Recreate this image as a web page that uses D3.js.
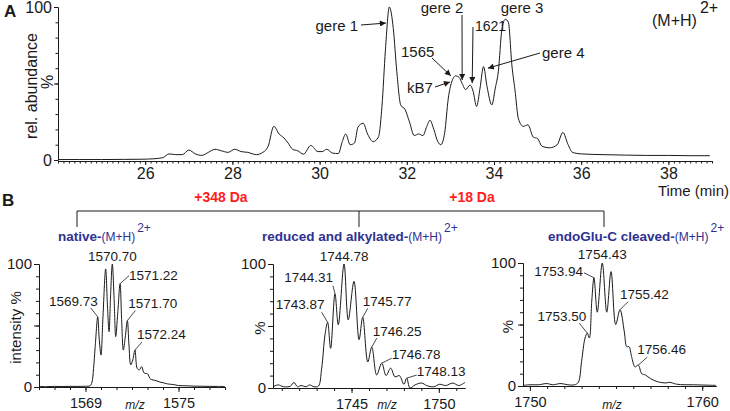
<!DOCTYPE html>
<html><head><meta charset="utf-8">
<script src="https://cdn.jsdelivr.net/npm/d3@7"></script>
<style>
html,body{margin:0;padding:0;background:#fff;}
svg{display:block;font-family:"Liberation Sans",Arial,sans-serif;}
</style></head><body>
<svg id="chart" width="730" height="411"></svg>
<script>
// ---------- Panel A: chromatogram ----------
const chromTime = [24.0,24.5,25.0,25.5,25.9,26.2,26.4,26.55,26.7,26.85,27.0,27.15,27.3,27.45,27.6,27.75,27.9,28.05,28.2,28.35,28.55,28.7,28.82,28.95,29.07,29.18,29.28,29.38,29.5,29.63,29.8,29.96,30.06,30.16,30.3,30.43,30.52,30.6,30.7,30.8,30.88,31.0,31.1,31.23,31.35,31.43,31.51,31.6,31.69,31.77,31.86,31.96,32.06,32.17,32.27,32.37,32.46,32.53,32.62,32.71,32.78,32.87,32.95,33.03,33.12,33.2,33.27,33.35,33.45,33.52,33.6,33.68,33.76,33.84,33.95,34.03,34.1,34.18,34.26,34.33,34.41,34.48,34.56,34.67,34.78,34.9,35.0,35.1,35.28,35.45,35.58,35.7,35.8,36.0,36.5,37.0,37.5,38.0,38.5,38.95];
const chromAbund = [0.3,0.3,0.3,0.4,0.5,0.8,1.5,4,3.5,3.5,6.5,4,3,5,7,6,5,7,5.5,5,3.5,5,9,22,17,14.5,11,7,6,3.8,9.5,5.5,5.5,7,4.5,4.2,12,17,10,11,21.5,24,17,12,15,35,72,100,86,58,36,33,25,16,17,16,22,26,20,12,10,18,40,51,55,54,50,46,49,45,35,47,61,48,36,47,58,85,92,90,62,46,27,22,23,15,14,9,8,10,18,10,5,4,3.5,3.2,3,3,2.8,2.8];
const chromXTicks = [26,28,30,32,34,36,38];
const chromYTicks = [0,100];
// annotation texts and the chromatogram points they point to
const chromNotes = ["gere 1","gere 2","1621","1565","kB7","gere 4","gere 3"];
const chromNoteTime = [31.52,33.27,33.5,33.01,32.99,33.86,null];
const chromNoteAbund = [89.5,52.3,50.3,55,51,60,null];

// ---------- Panel B: spectra ----------
const nativeMz = [1566.0,1566.5,1567.0,1567.5,1568.0,1568.5,1569.0,1569.3,1569.42,1569.52,1569.62,1569.79,1569.88,1570.0,1570.12,1570.30,1570.42,1570.52,1570.62,1570.73,1570.85,1570.95,1571.08,1571.23,1571.33,1571.44,1571.56,1571.70,1571.8,1571.92,1572.05,1572.19,1572.34,1572.48,1572.62,1572.75,1572.84,1572.95,1573.05,1573.15,1573.27,1573.45,1573.6,1573.8,1574.0,1574.3,1574.67,1575.0,1575.5,1576,1576.5,1577,1577.5,1578];
const nativeInt = [0.5,0.3,0.5,0.4,0.5,0.5,0.6,1,4,15,32,57,40,26,55,96,65,45,75,100,70,41,60,84,55,30,40,54,35,18,22,30,15,14,16.5,12,11,11,10,7,6,5.5,5,4,3.5,2.5,2,1.2,1,0.7,0.6,0.5,0.5,0.4];

const reducedMz = [1740.5,1740.8,1741.1,1741.5,1741.7,1741.9,1742.1,1742.4,1742.6,1742.85,1743.1,1743.29,1743.48,1743.63,1743.8,1744.05,1744.24,1744.57,1744.81,1745.14,1745.43,1745.64,1745.93,1746.16,1746.44,1746.73,1746.98,1747.24,1747.49,1747.74,1748.0,1748.16,1748.35,1748.64,1749.02,1749.3,1749.7,1750.05,1750.4,1750.8,1751.15,1751.5];
const reducedInt = [1,2.5,1,1.5,4.5,1,2,1,2.5,1,1.5,16,43,53,32,76,51,100,55,86,39,57,21,33,10.5,20,10,16,9,10,3,8,0,2.5,4,2,1,3,2,4,2,4.5];

const endoMz = [1749.6,1750.0,1750.5,1751.0,1751.3,1751.8,1752.2,1752.6,1752.81,1753.0,1753.2,1753.33,1753.45,1753.59,1753.72,1753.91,1754.2,1754.46,1754.71,1754.98,1755.23,1755.48,1755.62,1755.75,1755.9,1756.1,1756.29,1756.49,1756.7,1757.0,1757.4,1757.9,1758.1,1758.5,1759,1759.5,1760,1760.8];
const endoInt = [0.5,1,1,2,1,2,1,1,3,20,39,43,39,69,88,60,100,60,93,50,62,44,32,32,24,15.5,17,10,9,6,3.5,2.5,3,1.5,1,1,0.8,0.5];

const nativeTickLabels = [1569,1575];
const reducedTickLabels = [1745,1750];
const endoTickLabels = [1750,1760];

const nativePeakLabels = ["1570.70","1571.22","1569.73","1571.70","1572.24"];
const nativePeakMz = [1570.73,1571.23,1569.79,1571.70,1572.19];
const nativePeakInt = [100,84,57,54,30];

const reducedPeakLabels = ["1744.78","1744.31","1743.87","1745.77","1746.25","1746.78","1748.13"];
const reducedPeakMz = [1744.57,1744.05,1743.63,1745.64,1746.16,1746.73,1748.16];
const reducedPeakInt = [100,76,53,57,33,20,8];

const endoPeakLabels = ["1754.43","1753.94","1753.50","1755.42","1756.46"];
const endoPeakMz = [1754.2,1753.72,1753.33,1755.23,1756.29];
const endoPeakInt = [100,88,43,62,17];

const massShifts = ["+348 Da","+18 Da"];
const spectrumTitles = ["native-","reduced and alkylated-","endoGlu-C cleaved-"];

// ---------- drawing ----------
const svg = d3.select("#chart");
const INK = "#1a1a1a";
const BLUE = "#2e3192";
const RED = "#ff1d1d";

const defs = svg.append("defs");
defs.append("marker").attr("id","arr").attr("viewBox","0 0 10 10")
  .attr("refX",10).attr("refY",5).attr("markerWidth",7).attr("markerHeight",6)
  .attr("markerUnits","userSpaceOnUse").attr("orient","auto")
  .append("path").attr("d","M0,0L10,5L0,10z").attr("fill",INK);

function styleAxis(g, fs){
  g.attr("font-family",null).attr("font-size",null);
  g.selectAll("text").attr("font-size",fs).attr("fill",INK).attr("font-family","Liberation Sans, Arial, sans-serif");
  g.selectAll("line,path").attr("stroke",INK).attr("stroke-width",1);
}

// ---- Panel A ----
const xA = d3.scaleLinear().domain([24,39]).range([58,712]);
const yA = d3.scaleLinear().domain([0,100]).range([160,7]);
const gA = svg.append("g");

gA.append("g").attr("transform","translate(0,161)")
  .call(d3.axisBottom(xA).tickValues(d3.range(24,39.001,0.125)).tickSize(2.5).tickFormat("").tickSizeOuter(0))
  .call(g=>styleAxis(g,16));
gA.append("g").attr("transform","translate(0,161)")
  .call(d3.axisBottom(xA).tickValues(chromXTicks).tickSize(4).tickPadding(3).tickSizeOuter(0))
  .call(g=>styleAxis(g,16));
gA.append("g").attr("transform","translate(58,0)")
  .call(d3.axisLeft(yA).tickValues(d3.range(0,101,10)).tickSize(2.5).tickFormat("").tickSizeOuter(0))
  .call(g=>styleAxis(g,16));
gA.append("g").attr("transform","translate(58,0)")
  .call(d3.axisLeft(yA).tickValues([0,50,100]).tickSize(4).tickPadding(2).tickFormat(v=>chromYTicks.includes(v)?v:"").tickSizeOuter(0))
  .call(g=>styleAxis(g,16));

const lineA = d3.line().x((d,i)=>xA(chromTime[i])).y(d=>yA(d)).curve(d3.curveMonotoneX);
gA.append("path").attr("d",lineA(chromAbund)).attr("fill","none").attr("stroke",INK).attr("stroke-width",1);

// labels A
gA.append("text").attr("x",4).attr("y",17).attr("font-size",17).attr("font-weight","bold").attr("fill",INK).text("A");
gA.append("text").attr("transform","translate(37,86) rotate(-90)").attr("text-anchor","middle")
  .attr("font-size",16).attr("fill",INK).text("rel. abundance");
gA.append("text").attr("transform","translate(53,82) rotate(-90)").attr("text-anchor","middle")
  .attr("font-size",16).attr("fill",INK).text("%");
gA.append("text").attr("x",729).attr("y",196).attr("text-anchor","end").attr("font-size",15).attr("fill",INK).text("Time (min)");
const mh = gA.append("text").attr("x",652).attr("y",26).attr("font-size",16).attr("fill",INK);
mh.append("tspan").text("(M+H)");
mh.append("tspan").attr("dx",3).attr("dy",-13).text("2+");

// annotation layout (text position & arrow start, pixels)
const noteLayout = [
  {tx:358,ty:31,anchor:"end",sx:361,sy:25,fs:15},
  {tx:442,ty:13,anchor:"middle",sx:462,sy:15,fs:15},
  {tx:475,ty:31,anchor:"start",sx:473,sy:27,fs:14},
  {tx:401,ty:57,anchor:"start",sx:432,sy:58,fs:15},
  {tx:407,ty:93,anchor:"start",sx:435,sy:87,fs:15},
  {tx:542,ty:58,anchor:"start",sx:540,sy:53,fs:15},
  {tx:522,ty:13,anchor:"middle",fs:15}
];
chromNotes.forEach((t,i)=>{
  const L = noteLayout[i];
  gA.append("text").attr("x",L.tx).attr("y",L.ty).attr("text-anchor",L.anchor)
    .attr("font-size",L.fs).attr("fill",INK).text(t);
  if(chromNoteTime[i]!==null){
    gA.append("line").attr("x1",L.sx).attr("y1",L.sy)
      .attr("x2",xA(chromNoteTime[i])).attr("y2",yA(chromNoteAbund[i]))
      .attr("stroke",INK).attr("stroke-width",1).attr("marker-end","url(#arr)");
  }
});

// ---- Panel B ----
const gB = svg.append("g");
gB.append("text").attr("x",2).attr("y",206).attr("font-size",17).attr("font-weight","bold").attr("fill",INK).text("B");
// bracket
gB.append("path").attr("d","M77,227V211H604V227M359,211V227").attr("fill","none").attr("stroke",INK).attr("stroke-width",1);
gB.append("text").attr("x",221).attr("y",202).attr("text-anchor","middle").attr("font-size",14).attr("font-weight","bold").attr("fill",RED).text(massShifts[0]);
gB.append("text").attr("x",472).attr("y",202).attr("text-anchor","middle").attr("font-size",14).attr("font-weight","bold").attr("fill",RED).text(massShifts[1]);

const panels = [
  {mz:nativeMz, it:nativeInt, dom:[1566,1578], rx:[39,225], ry:[387,264], ticks:nativeTickLabels,
   labels:nativePeakLabels, pmz:nativePeakMz, pit:nativePeakInt, title:spectrumTitles[0], titleX:58, ytitle:"intensity %", ytx:21, mzx:135,
   lay:[{dx:0,dy:-3,a:"middle"},{dx:9,dy:-4,a:"start",lx:9,ly:-8},{dx:0,dy:-11,a:"end",lx:-7,ly:-9},{dx:1,dy:-13,a:"start",lx:8,ly:-10},{dx:2,dy:-11,a:"start",lx:7,ly:-8}]},
  {mz:reducedMz, it:reducedInt, dom:[1740.5,1751.5], rx:[273,465], ry:[388,264], ticks:reducedTickLabels,
   labels:reducedPeakLabels, pmz:reducedPeakMz, pit:reducedPeakInt, title:spectrumTitles[1], titleX:262, ytitle:"%", ytx:265, mzx:387,
   lay:[{dx:0,dy:-3,a:"middle"},{dx:-2,dy:-12,a:"end",lx:-2,ly:-8},{dx:-3,dy:-13,a:"end",lx:-6,ly:-10},{dx:0,dy:-11,a:"start",lx:5,ly:-9},{dx:1,dy:-11,a:"start",lx:5,ly:-9},{dx:10,dy:-4,a:"start",lx:10,ly:-5},{dx:10,dy:-2,a:"start",lx:10,ly:-3}]},
  {mz:endoMz, it:endoInt, dom:[1749.6,1760.8], rx:[523,716], ry:[386,263], ticks:endoTickLabels,
   labels:endoPeakLabels, pmz:endoPeakMz, pit:endoPeakInt, title:spectrumTitles[2], titleX:548, ytitle:"%", ytx:513, mzx:612,
   lay:[{dx:0,dy:-4,a:"middle"},{dx:-11,dy:-2,a:"end",lx:-10,ly:-5},{dx:-1,dy:-12,a:"end",lx:-8,ly:-10},{dx:0,dy:-11,a:"start",lx:8,ly:-8},{dx:-1,dy:-11,a:"start",lx:9,ly:-8}]}
];

panels.forEach(p=>{
  const x = d3.scaleLinear().domain(p.dom).range(p.rx);
  const y = d3.scaleLinear().domain([0,100]).range(p.ry);
  const g = gB.append("g");
  const y0 = p.ry[0];
  g.append("g").attr("transform",`translate(0,${y0})`)
    .call(d3.axisBottom(x).tickValues(d3.range(Math.ceil(p.dom[0]),p.dom[1]+0.001,1)).tickSize(3).tickFormat("").tickSizeOuter(0))
    .call(a=>styleAxis(a,14));
  g.append("g").attr("transform",`translate(0,${y0})`)
    .call(d3.axisBottom(x).tickValues(p.ticks).tickSize(5).tickPadding(6).tickFormat(d3.format("d")).tickSizeOuter(0))
    .call(a=>styleAxis(a,14.5));
  g.append("g").attr("transform",`translate(${p.rx[0]},0)`)
    .call(d3.axisLeft(y).tickValues(d3.range(0,101,10)).tickSize(3).tickFormat("").tickSizeOuter(0))
    .call(a=>styleAxis(a,15));
  g.append("g").attr("transform",`translate(${p.rx[0]},0)`)
    .call(d3.axisLeft(y).tickValues([0,50,100]).tickSize(5).tickPadding(2).tickFormat(v=>v===50?"":v).tickSizeOuter(0))
    .call(a=>styleAxis(a,15));
  const line = d3.line().x((d,i)=>x(p.mz[i])).y(d=>y(d)).curve(d3.curveCatmullRom.alpha(0.5));
  g.append("path").attr("d",line(p.it)).attr("fill","none").attr("stroke",INK).attr("stroke-width",1);
  // y title
  g.append("text").attr("transform",`translate(${p.ytx},${(p.ry[0]+p.ry[1])/2+2}) rotate(-90)`).attr("text-anchor","middle")
    .attr("font-size",15).attr("fill",INK).text(p.ytitle);
  // m/z
  g.append("text").attr("x",p.mzx).attr("y",409).attr("text-anchor","middle").attr("font-size",12)
    .attr("font-style","italic").attr("fill",INK).text("m/z");
  // title
  const t = g.append("text").attr("x",p.titleX).attr("y",241).attr("fill",BLUE);
  t.append("tspan").attr("font-size",13.5).attr("font-weight","bold").text(p.title);
  t.append("tspan").attr("font-size",12).text("(M+H)");
  t.append("tspan").attr("font-size",12).attr("dx",2).attr("dy",-9).text("2+");
  // peak labels
  p.labels.forEach((lab,i)=>{
    const px = x(p.pmz[i]), py = y(p.pit[i]);
    const L = p.lay[i];
    g.append("text").attr("x",px+L.dx).attr("y",py+L.dy).attr("text-anchor",L.a)
      .attr("font-size",13.5).attr("fill",INK).text(lab);
    if(L.lx!==undefined){
      g.append("line").attr("x1",px+L.lx).attr("y1",py+L.ly).attr("x2",px).attr("y2",py)
        .attr("stroke",INK).attr("stroke-width",0.8);
    }
  });
});
</script>
</body></html>
